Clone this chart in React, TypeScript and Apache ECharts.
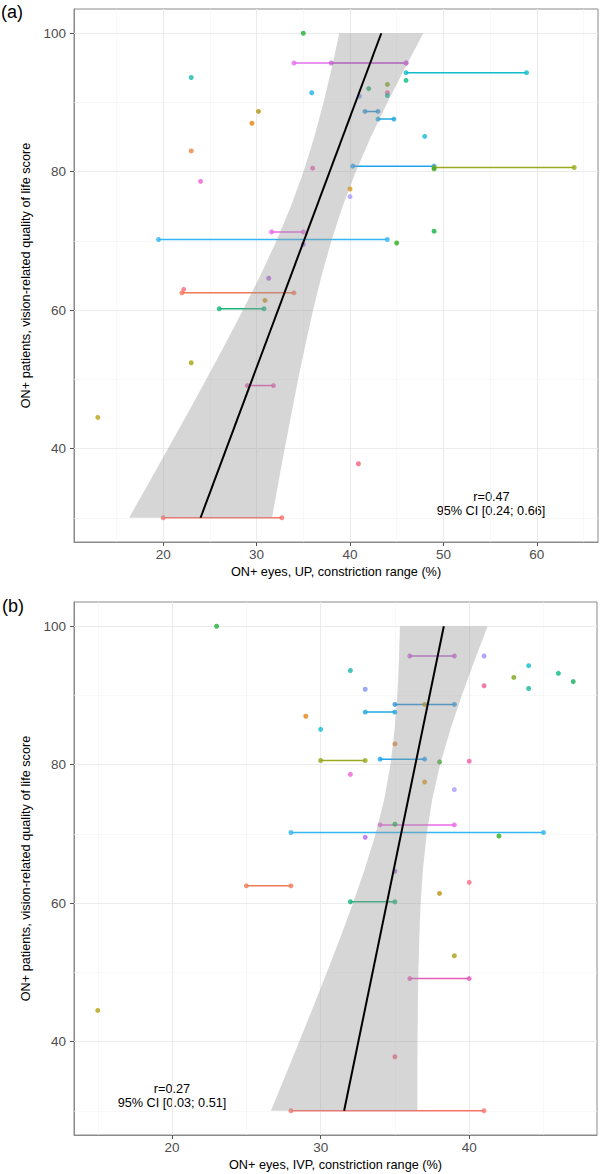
import React, { useEffect, useRef } from "react";
import * as echarts from "echarts";

const FONT = "'Liberation Sans', Arial, Helvetica, sans-serif";

// One entry per ON+ patient: vision-related QoL score, colour, and constriction range per eye
const qolScore = [100, 95.7, 95.7, 95.7, 94.3, 93.6, 93.2, 92.6, 92.0, 91.4, 91.4, 91.0, 90.9, 88.7, 88.7, 87.6, 87.0, 85.1, 83.0, 80.8, 80.6, 80.5, 80.4, 78.6, 77.5, 76.4, 71.4, 71.3, 70.2, 69.7, 69.5, 64.6, 63.0, 62.5, 61.4, 60.2, 52.4, 49.1, 44.5, 37.8, 30.0];
const patientColour = ["#22B33A", "#E36EEC", "#C563D4", "#A68BFA", "#12BDCB", "#19B8AA", "#00BB7E", "#7BA513", "#14AE5C", "#EA5E9A", "#1AB4E8", "#11B89E", "#7F92F6", "#B4930E", "#2F95DB", "#1EA8E0", "#E3850E", "#14BCD6", "#E9823E", "#1EA3EE", "#9AAA1E", "#F05CA5", "#3AAA26", "#F060D2", "#DF9412", "#A79CFF", "#0DB33C", "#EA68E4", "#33B6F3", "#2AAE1A", "#B768F0", "#B05EDB", "#FB6A88", "#F07A55", "#BE9010", "#17B57A", "#A9A20C", "#E45CB8", "#B9A312", "#F0607A", "#F8766D"];
const upEyeA = [35.0, 34.0, 38.0, null, 46.0, 23.0, 46.0, 44.0, 42.0, 44.0, 35.9, 44.0, 41.0, 30.2, 41.6, 43.0, 29.5, 48.0, 23.0, 40.3, 49.0, 36.0, 49.0, 24.0, 40.0, 40.0, 49.0, 31.6, 19.5, 45.0, 35.0, 31.3, 22.2, 22.0, 30.9, 26.0, 23.0, 29.0, 13.0, 40.9, 20.0];
const upEyeB = [null, 46.0, 46.0, null, 58.9, null, null, null, null, null, null, null, null, null, 43.0, 44.7, null, null, null, 49.0, 64.0, null, null, null, null, null, null, 35.0, 44.0, null, null, null, null, 34.0, null, 30.8, null, 31.8, null, null, 32.7];
const ivpEyeA = [23.0, null, 36.0, 41.0, 44.0, 32.0, 46.0, 43.0, 47.0, 41.0, null, 44.0, 33.0, 37.0, 35.0, 33.0, 29.0, 30.0, 35.0, 34.0, 30.0, 40.0, 38.0, 32.0, 37.0, 39.0, 35.0, 34.0, 28.0, 42.0, 33.0, 35.0, 40.0, 25.0, 38.0, 32.0, 39.0, 36.0, 15.0, 35.0, 28.0];
const ivpEyeB = [null, null, 39.0, null, null, null, null, null, null, null, null, null, null, null, 39.0, 35.0, null, null, null, 37.0, 33.0, null, null, null, null, null, null, 39.0, 45.0, null, null, null, null, 28.0, null, 35.0, null, 40.0, null, null, 41.0];

// Regression fit and its 95% confidence band (constriction range at given QoL score)
const bandScore = [30, 35, 40, 45, 50, 55, 60, 65, 70, 75, 80, 85, 90, 95, 100];
const upBandLow = [16.35, 18.44, 20.52, 22.58, 24.61, 26.6, 28.54, 30.4, 32.12, 33.67, 35.02, 36.17, 37.17, 38.05, 38.85];
const upBandHigh = [31.65, 32.32, 33.01, 33.72, 34.45, 35.22, 36.05, 36.96, 38.0, 39.21, 40.62, 42.23, 44.01, 45.9, 47.85];
const ivpBandLow = [26.65, 27.61, 28.56, 29.5, 30.42, 31.32, 32.18, 32.98, 33.7, 34.28, 34.7, 34.98, 35.16, 35.27, 35.34];
const ivpBandHigh = [36.51, 36.51, 36.52, 36.54, 36.58, 36.64, 36.73, 36.89, 37.14, 37.51, 38.04, 38.72, 39.5, 40.35, 41.24];
const fitScore = [30, 100];
const upFit = [24.0, 43.35];
const ivpFit = [31.58, 38.29];

// Axis ticks
const upTicks = [20, 30, 40, 50, 60];
const upMinor = [15, 25, 35, 45, 55, 65];
const ivpTicks = [20, 30, 40];
const ivpMinor = [15, 25, 35, 45];
const scoreTicks = [40, 60, 80, 100];
const scoreMinor = [30, 50, 70, 90];

function panelSeries(
  gi: number,
  eyeA: (number | null)[],
  eyeB: (number | null)[],
  bandLow: number[],
  bandHigh: number[],
  fit: number[],
  majorX: number[],
  minorX: number[]
): any[] {
  const series: any[] = [];
  const minorStyle = { color: "#F3F3F3", width: 0.6, type: "solid" };
  const majorStyle = { color: "#EBEBEB", width: 1.1, type: "solid" };
  series.push({
    type: "line",
    xAxisIndex: gi,
    yAxisIndex: gi,
    data: [],
    silent: true,
    markLine: {
      silent: true,
      z: 1,
      symbol: ["none", "none"],
      label: { show: false },
      lineStyle: { type: "solid" },
      data: [
        ...minorX.map((v) => ({ xAxis: v, lineStyle: minorStyle })),
        ...scoreMinor.map((v) => ({ yAxis: v, lineStyle: minorStyle })),
        ...majorX.map((v) => ({ xAxis: v, lineStyle: majorStyle })),
        ...scoreTicks.map((v) => ({ yAxis: v, lineStyle: majorStyle })),
      ],
    },
  });
  qolScore.forEach((s, i) => {
    const a = eyeA[i];
    const b = eyeB[i];
    if (a != null && b != null) {
      series.push({
        type: "line",
        xAxisIndex: gi,
        yAxisIndex: gi,
        silent: true,
        symbol: "none",
        z: 2,
        lineStyle: { color: patientColour[i], width: 1.5 },
        data: [
          [a, s],
          [b, s],
        ],
      });
    }
  });
  const pts: any[] = [];
  qolScore.forEach((s, i) => {
    [eyeA[i], eyeB[i]].forEach((x) => {
      if (x != null) pts.push({ value: [x, s], itemStyle: { color: patientColour[i] } });
    });
  });
  series.push({
    type: "scatter",
    xAxisIndex: gi,
    yAxisIndex: gi,
    symbolSize: 5,
    silent: true,
    z: 2,
    data: pts,
  });
  series.push({
    type: "custom",
    xAxisIndex: gi,
    yAxisIndex: gi,
    silent: true,
    z: 3,
    data: [[fit[0], fitScore[0]]],
    renderItem: (_params: any, api: any) => {
      const lower = bandLow.map((x, i) => api.coord([x, bandScore[i]]));
      const upper = bandHigh.map((x, i) => api.coord([x, bandScore[i]])).reverse();
      return {
        type: "polygon",
        shape: { points: [...lower, ...upper] },
        style: { fill: "rgba(153,153,153,0.4)" },
      };
    },
  });
  series.push({
    type: "line",
    xAxisIndex: gi,
    yAxisIndex: gi,
    silent: true,
    symbol: "none",
    z: 4,
    lineStyle: { color: "#000000", width: 2 },
    data: fit.map((x, i) => [x, fitScore[i]]),
  });
  return series;
}

function xAxis(gi: number, min: number, max: number, ticks: number[], name: string) {
  return {
    type: "value",
    gridIndex: gi,
    min,
    max,
    axisLine: { show: true, lineStyle: { color: "#8A8A8A", width: 1 } },
    axisTick: { show: true, length: 4, lineStyle: { color: "#555555" }, customValues: ticks },
    axisLabel: { customValues: ticks, color: "#4D4D4D", fontSize: 13.5, fontFamily: FONT, margin: 5 },
    splitLine: { show: false },
    name,
    nameLocation: "middle",
    nameGap: 23,
    nameTextStyle: { color: "#000000", fontSize: 12.7, fontFamily: FONT },
  };
}

function yAxis(gi: number) {
  return {
    type: "value",
    gridIndex: gi,
    min: 26.5,
    max: 103.5,
    axisLine: { show: true, lineStyle: { color: "#8A8A8A", width: 1 } },
    axisTick: { show: true, length: 4, lineStyle: { color: "#555555" }, customValues: scoreTicks },
    axisLabel: { customValues: scoreTicks, color: "#4D4D4D", fontSize: 13.5, fontFamily: FONT, margin: 8 },
    splitLine: { show: false },
    name: "ON+ patients, vision-related quality of life score",
    nameLocation: "middle",
    nameGap: 31,
    nameTextStyle: { color: "#000000", fontSize: 12.7, fontFamily: FONT },
  };
}

function label(text: string, x: number, y: number, size: number, align: string) {
  return {
    type: "text",
    x,
    y,
    silent: true,
    style: { text, fontSize: size, fontFamily: FONT, fill: "#000000", align, verticalAlign: "middle" },
  };
}

export default function App() {
  const ref = useRef<HTMLDivElement>(null);
  useEffect(() => {
    if (!ref.current) return;
    const chart = echarts.init(ref.current, undefined, { renderer: "svg" });
    const gridStyle = { show: true, borderColor: "#8A8A8A", borderWidth: 1, backgroundColor: "#FFFFFF" };
    chart.setOption({
      animation: false,
      backgroundColor: "#FFFFFF",
      grid: [
        { left: 74, top: 9, width: 524, height: 533, ...gridStyle },
        { left: 74, top: 602, width: 523, height: 533, ...gridStyle },
      ],
      xAxis: [
        xAxis(0, 10.45, 66.55, upTicks, "ON+ eyes, UP, constriction range (%)"),
        xAxis(1, 13.4, 48.6, ivpTicks, "ON+ eyes, IVP, constriction range (%)"),
      ],
      yAxis: [yAxis(0), yAxis(1)],
      series: [
        ...panelSeries(0, upEyeA, upEyeB, upBandLow, upBandHigh, upFit, upTicks, upMinor),
        ...panelSeries(1, ivpEyeA, ivpEyeB, ivpBandLow, ivpBandHigh, ivpFit, ivpTicks, ivpMinor),
      ],
      graphic: [
        label("(a)", 1, 12, 18, "left"),
        label("(b)", 2, 606, 18, "left"),
        label("r=0.47", 491.5, 497.3, 12.7, "center"),
        label("95% CI [0.24; 0.66]", 491, 510.7, 12.7, "center"),
        label("r=0.27", 172, 1089, 12.7, "center"),
        label("95% CI [0.03; 0.51]", 172, 1102.7, 12.7, "center"),
      ],
    });
    return () => chart.dispose();
  }, []);
  return (
    <div
      ref={ref}
      style={{ position: "absolute", left: 0, top: 0, width: 602, height: 1174 }}
    />
  );
}
